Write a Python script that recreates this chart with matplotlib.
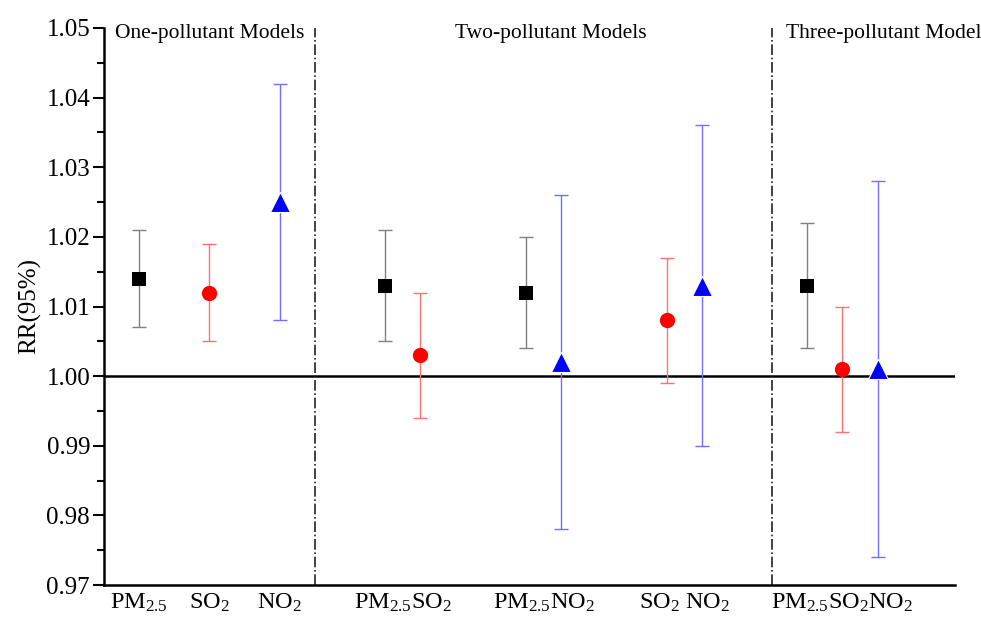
import matplotlib
matplotlib.use("Agg")
import matplotlib.pyplot as plt
import numpy as np

plt.rcParams['font.family'] = ['Liberation Serif', 'DejaVu Serif']
plt.rcParams['mathtext.fontset'] = 'custom'
plt.rcParams['mathtext.rm'] = 'Liberation Serif'
plt.rcParams['mathtext.it'] = 'Liberation Serif:italic'

# Data: x position index, estimate, lower CI, upper CI, pollutant
x_pos = [1, 3, 5, 8, 9, 12, 13, 16, 17, 20, 21, 22]
pollutant = ['PM', 'SO2', 'NO2', 'PM', 'SO2', 'PM', 'NO2', 'SO2', 'NO2', 'PM', 'SO2', 'NO2']
rr = [1.014, 1.012, 1.025, 1.013, 1.003, 1.012, 1.002, 1.008, 1.013, 1.013, 1.001, 1.001]
lower = [1.007, 1.005, 1.008, 1.005, 0.994, 1.004, 0.978, 0.999, 0.990, 1.004, 0.992, 0.974]
upper = [1.021, 1.019, 1.042, 1.021, 1.012, 1.020, 1.026, 1.017, 1.036, 1.022, 1.010, 1.028]

tick_pos = [1, 3, 5, 8.5, 12.5, 16.5, 21]
tick_labels = [r'PM$_{\mathrm{2.5}}$', r'SO$_{\mathrm{2}}$', r'NO$_{\mathrm{2}}$',
               r'PM$_{\mathrm{2.5}}$SO$_{\mathrm{2}}$', r'PM$_{\mathrm{2.5}}$NO$_{\mathrm{2}}$',
               r'SO$_{\mathrm{2}}$ NO$_{\mathrm{2}}$', r'PM$_{\mathrm{2.5}}$SO$_{\mathrm{2}}$NO$_{\mathrm{2}}$']

group_titles = ['One-pollutant Models', 'Two-pollutant Models', 'Three-pollutant Model']
dividers = [6, 19]

styles = {
    'PM': dict(marker='s', color='black', ecolor='#808080', ms=10),
    'SO2': dict(marker='o', color='red', ecolor='#ff7070', ms=11),
    'NO2': dict(marker='^', color='blue', ecolor='#7070ff', ms=14),
}

fig = plt.figure(figsize=(9.81, 6.19), dpi=100)
ax = fig.add_axes([104/981, 1-585/619, (955-104)/981, (585-28)/619])

for x, p, r, lo, hi in zip(x_pos, pollutant, rr, lower, upper):
    s = styles[p]
    ax.errorbar([x], [r], yerr=[[r - lo], [hi - r]], fmt='none', ecolor=s['ecolor'],
                elinewidth=1.0, capsize=5, capthick=1.0, zorder=2)
    ax.plot([x], [r], linestyle='none', marker=s['marker'], color=s['color'],
            markersize=s['ms'], markeredgecolor='white' if p == 'NO2' else s['color'],
            markeredgewidth=0.8 if p == 'NO2' else 0, zorder=3)

ax.axhline(1.0, color='black', lw=1.8, zorder=1)
for d in dividers:
    ax.axvline(d, color='#222222', lw=1.2, linestyle='-.', zorder=1)

ax.set_xlim(0, 24.2)
ax.set_ylim(0.97, 1.05)
ax.set_yticks(np.arange(0.97, 1.0501, 0.01))
ax.set_yticklabels([f'{v:.2f}' for v in np.arange(0.97, 1.0501, 0.01)])
ax.set_yticks(np.arange(0.975, 1.05, 0.01), minor=True)
ax.set_xticks(tick_pos)
ax.set_xticklabels(tick_labels)
ax.tick_params(axis='x', length=0, labelsize=17.5, pad=5)
ax.tick_params(axis='y', which='major', length=8, width=1.5, labelsize=18, direction='out', pad=2)
ax.tick_params(axis='y', which='minor', length=5, width=1.5, direction='out')

for sp in ['top', 'right']:
    ax.spines[sp].set_visible(False)
for sp in ['left', 'bottom']:
    ax.spines[sp].set_linewidth(1.8)

ax.set_ylabel('RR(95%)', fontsize=18, labelpad=4)

ax.text(0.31, 1.0492, group_titles[0], fontsize=15.5, ha='left', va='center')
ax.text(12.7, 1.0492, group_titles[1], fontsize=15.5, ha='center', va='center')
ax.text(19.4, 1.0492, group_titles[2], fontsize=15.5, ha='left', va='center', clip_on=False)

fig.savefig('out.png', dpi=100)
